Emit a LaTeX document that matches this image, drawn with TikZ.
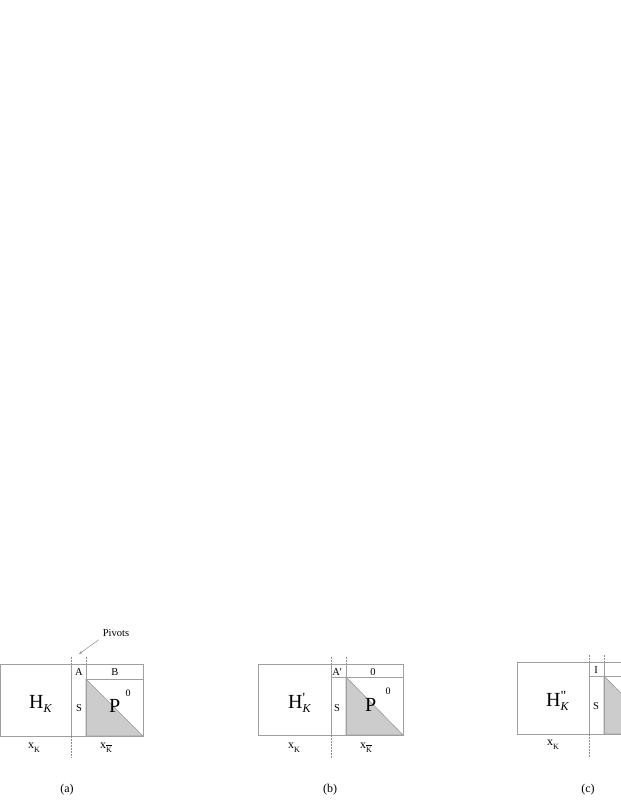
\documentclass[tikz,border=0pt]{standalone}
\usepackage{fontspec}
\setmainfont{Liberation Serif}
\usetikzlibrary{arrows.meta}
\tikzset{
  boxline/.style = {draw = gray!75, line width = 0.8pt},
  pivline/.style = {draw = gray!90, line width = 0.5pt, dash pattern = on 1.5pt off 1.5pt},
  tri/.style = {fill = gray!40, draw = gray!80, line width = 0.6pt},
  big/.style = {inner sep = 0pt, font = \fontsize{20}{20}\selectfont},
  cell/.style = {inner sep = 0pt, font = \fontsize{10.5}{11}\selectfont},
  sup/.style = {inner sep = 0pt, font = \fontsize{10}{10}\selectfont},
  var/.style = {inner sep = 0pt, font = \fontsize{12}{12}\selectfont},
  panlabel/.style = {inner sep = 0pt, font = \fontsize{12}{12}\selectfont}
}
\newcommand{\subK}{\raisebox{-4pt}{\fontsize{12}{12}\selectfont\itshape K}}
\newcommand{\lowK}{\raisebox{-4pt}{\fontsize{8}{8}\selectfont K}}
\newcommand{\barK}{\raisebox{-4pt}{\fontsize{8}{8}\selectfont$\overline{\mbox{K}}$}}
\newcommand{\primeK}[1]{\rlap{\raisebox{6pt}{\fontsize{14}{14}\selectfont #1}}\subK}
\begin{document}
\begin{tikzpicture}[x = 1pt, y = -1pt]
      \useasboundingbox (0,0) rectangle (621,804);
      \clip (0,0) rectangle (621,804);
      % pivots label
      \node[cell] at (116,633) (Piv) {Pivots};
      \coordinate (PivEnd) at (79,654);
      \draw[-{Stealth[length=3.5pt,width=2.5pt]}, gray!90, line width = 0.5pt] (Piv.south west) ++(-4,3) -- (PivEnd);
      % first panel
      \fill[tri] (86,679) -- (143,736) -- (86,736) -- cycle;
      \draw[boxline] (0.5,664) rectangle (143,736);
      \draw[boxline] (71,664) -- (71,736);
      \draw[boxline] (86,664) -- (86,736);
      \draw[boxline] (86,679) -- (143,679);
      \draw[pivline] (71,657) -- (71,664);
      \draw[pivline] (71,736) -- (71,758);
      \draw[pivline] (86,657) -- (86,664);
      \node[big, anchor = base west] at (29,708) (HA) {H\subK};
      \node[cell] at (79,672) (AA) {A};
      \node[cell] at (115,672) (BA) {B};
      \node[cell] at (79,708) (SA) {S};
      \node[big, anchor = base west] at (109,712) (PA) {P};
      \node[sup] at (128,693) (ZA) {0};
      \node[var, anchor = base west] at (28,748) (XA) {x\lowK};
      \node[var, anchor = base west] at (100,748) (YA) {x\barK};
      \node[panlabel] at (67,790) (CA) {(a)};
      % second panel
      \fill[tri] (346,677) -- (403,735) -- (346,735) -- cycle;
      \draw[boxline] (258,664) rectangle (403,735);
      \draw[boxline] (331,664) -- (331,735);
      \draw[boxline] (346,664) -- (346,735);
      \draw[boxline] (331,677) -- (403,677);
      \draw[pivline] (331,657) -- (331,664);
      \draw[pivline] (331,735) -- (331,758);
      \draw[pivline] (346,657) -- (346,664);
      \node[big, anchor = base west] at (288,708) (HB) {H\primeK{\textquotesingle}};
      \node[cell] at (337,672) (AB) {A\textquotesingle};
      \node[cell] at (373,672) (BB) {0};
      \node[cell] at (337,708) (SB) {S};
      \node[big, anchor = base west] at (365,711) (PB) {P};
      \node[sup] at (388,691) (ZB) {0};
      \node[var, anchor = base west] at (288,748) (XB) {x\lowK};
      \node[var, anchor = base west] at (360,748) (YB) {x\barK};
      \node[panlabel] at (330,790) (CB) {(b)};
      % third panel
      \fill[tri] (604,676) -- (661,734) -- (604,734) -- cycle;
      \draw[boxline] (517,662) rectangle (661,734);
      \draw[boxline] (589,662) -- (589,734);
      \draw[boxline] (604,662) -- (604,734);
      \draw[boxline] (589,676) -- (661,676);
      \draw[pivline] (589,655) -- (589,662);
      \draw[pivline] (589,734) -- (589,757);
      \draw[pivline] (604,655) -- (604,662);
      \node[big, anchor = base west] at (546,706) (HC) {H\primeK{\textquotedbl}};
      \node[cell] at (596,670) (IC) {I};
      \node[cell] at (596,706) (SC) {S};
      \node[var, anchor = base west] at (547,745) (XC) {x\lowK};
      \node[panlabel] at (588,790) (CC) {(c)};
\end{tikzpicture}
\end{document}
